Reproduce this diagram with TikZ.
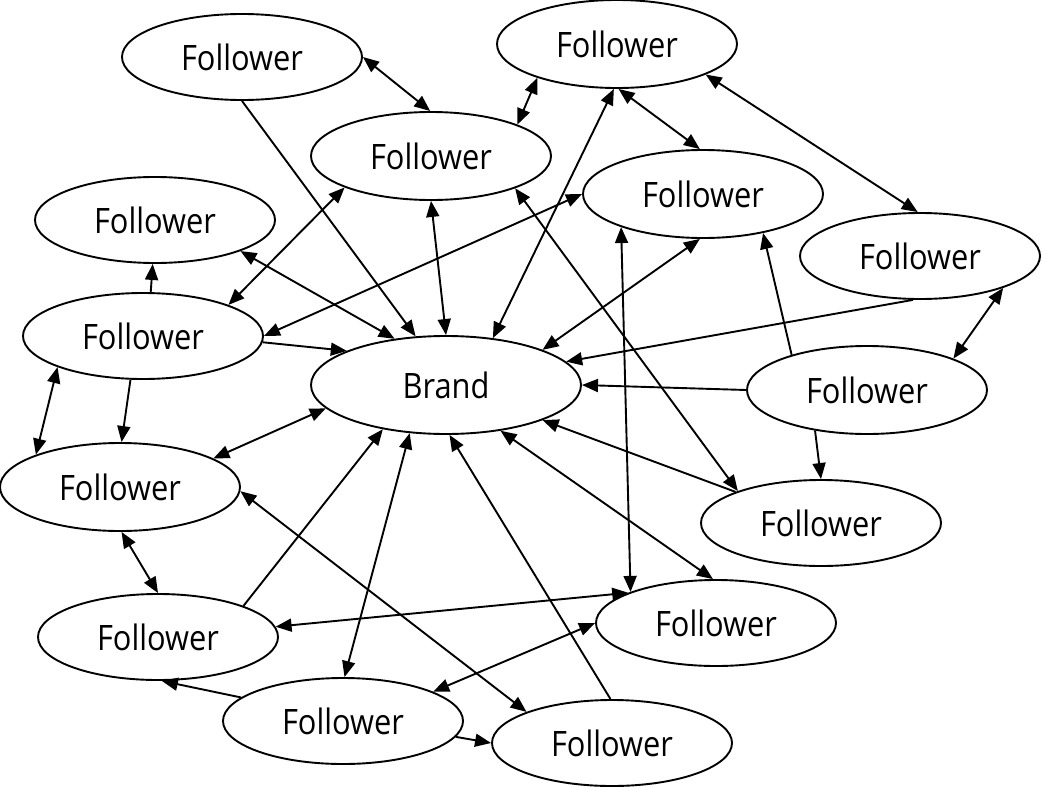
\documentclass[tikz,border=0pt]{standalone}
\usepackage{fontspec}
\newfontfamily\handfont[FakeStretch=0.88]{Open Sans}
\usetikzlibrary{shapes.geometric,arrows.meta}
\tikzset{
  fol/.style={ellipse,draw,line width=1.9pt,minimum width=240pt,minimum height=86pt,inner sep=0pt,
    font=\handfont\fontsize{35pt}{40pt}\selectfont},
  brandbox/.style={fol,minimum width=270pt,minimum height=98pt},
  tip/.tip={Triangle[length=16pt,width=13pt]},
  conn/.style={line width=1.9pt},
  oneway/.style={conn,-tip},
  twoway/.style={conn,tip-tip}
}
\begin{document}
\begin{tikzpicture}[x=1pt,y=-1pt]
\useasboundingbox (0,0) rectangle (1042,790);
\node[fol] (A) at (242,57) {Follower};
\node[fol,minimum height=88pt] (B) at (617,44) {Follower};
\node[fol,minimum height=88pt] (C) at (431,156) {Follower};
\node[fol,minimum height=88pt] (D) at (703,194) {Follower};
\node[fol] (E) at (155,220) {Follower};
\node[fol] (G) at (920,256) {Follower};
\node[fol] (H) at (143,336) {Follower};
\node[brandbox] (BR) at (446,385) {Brand};
\node[fol,minimum height=88pt] (I) at (867,390) {Follower};
\node[fol,minimum height=88pt] (J) at (120,487) {Follower};
\node[fol] (K) at (821,523) {Follower};
\node[fol] (L) at (158,637) {Follower};
\node[fol] (M) at (716,623) {Follower};
\node[fol] (N) at (343,721) {Follower};
\node[fol] (P) at (612,743) {Follower};

\draw[twoway] (A.0) -- (C.91);
\draw[oneway] (A.-90) -- (BR.122);
\draw[twoway] (B.-157) -- (C.20);
\draw[twoway] (B.-88) -- (D.94);
\draw[twoway] (B.-19) -- (G.93);
\draw[twoway] (B.-94) -- (BR.45);
\draw[twoway] (C.-90) -- (BR.90);
\draw[twoway] (C.-160) -- (H.20);
\draw[twoway] (E.-20) -- (BR.138);
\draw[twoway] (D.180) -- (H.0);
\draw[oneway] (H.-3) -- (BR.161);
\draw[oneway] (H.80) -- (E.-93);
\draw[twoway] (C.-21) -- (K.159);
\draw[twoway] (D.-94) -- (BR.20);
\draw[oneway] (I.155) -- (D.-33);
\draw[oneway] (G.-99) -- (BR.11);
\draw[twoway] (G.-21) -- (I.20);
\draw[oneway] (I.180) -- (BR.0);
\draw[oneway] (I.-142) -- (K.90);
\draw[twoway] (D.-158) -- (M.160);
\draw[oneway] (K.160) -- (BR.-20);
\draw[twoway] (BR.-40) -- (M.94);
\draw[twoway] (J.17) -- (BR.-169);
\draw[twoway] (H.-160) -- (J.159);
\draw[oneway] (H.-106) -- (J.88);
\draw[oneway] (L.20) -- (BR.-145);
\draw[twoway] (N.88) -- (BR.-127);
\draw[oneway] (P.92) -- (BR.-86);
\draw[twoway] (J.-2) -- (P.160);
\draw[twoway] (J.-88) -- (L.90);
\draw[twoway] (M.161) -- (L.5);
\draw[twoway] (N.18) -- (M.180);
\draw[oneway] (N.167) -- (L.-85);
\draw[oneway] (N.-8) -- (P.180);
\end{tikzpicture}
\end{document}
